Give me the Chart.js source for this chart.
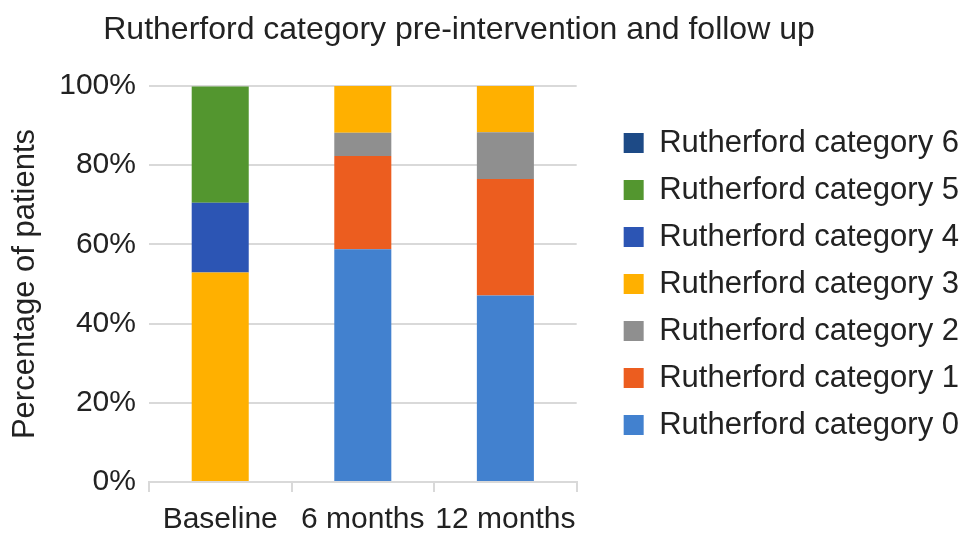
<!DOCTYPE html>
<html lang="en">
<head>
    <meta charset="UTF-8">
    <title>Rutherford category</title>
    <script src="https://cdn.jsdelivr.net/npm/chart.js"></script>
    <style>
        body {
            margin: 0;
            background: #fff;
        }
        .wrap {
            position: relative;
            width: 969px;
            height: 544px;
        }
        .title {
            position: absolute;
            left: 0;
            top: 9px;
            width: 918px;
            text-align: center;
            font-family: "Liberation Sans", Arial, sans-serif;
            font-size: 32px;
            line-height: 38px;
            color: #222;
        }
    </style>
</head>
<body>

<div class="wrap">
    <div class="title">Rutherford category pre-intervention and follow up</div>
    <canvas id="chart" width="969" height="544"></canvas>
</div>

<script>
    const timepoints = ['Baseline', '6 months', '12 months'];
    const seriesNames = ['Rutherford category 0', 'Rutherford category 1', 'Rutherford category 2',
        'Rutherford category 3', 'Rutherford category 4', 'Rutherford category 5', 'Rutherford category 6'];

    // percentage of patients per timepoint
    const cat0 = [0, 58.8, 47.1];
    const cat1 = [0, 23.5, 29.4];
    const cat2 = [0, 5.9, 11.8];
    const cat3 = [52.9, 11.8, 11.8];
    const cat4 = [17.6, 0, 0];
    const cat5 = [29.4, 0, 0];
    const cat6 = [0, 0, 0];

    const yTicks = [0, 20, 40, 60, 80, 100];

    const colors = ['#4281cf', '#ec5d1f', '#8f8f8f', '#ffb000', '#2c55b4', '#53962f', '#1d4a86'];
    const allSeries = [cat0, cat1, cat2, cat3, cat4, cat5, cat6];

    const fam = '"Liberation Sans", Arial, sans-serif';
    const font = { family: fam, size: 30 };

    new Chart(document.getElementById('chart'), {
        type: 'bar',
        data: {
            labels: timepoints,
            datasets: allSeries.map((vals, i) => ({
                label: seriesNames[i],
                data: vals,
                backgroundColor: colors[i],
                borderWidth: 0,
                barPercentage: 0.4,
                categoryPercentage: 1
            }))
        },
        options: {
            responsive: false,
            animation: false,
            layout: {
                padding: { top: 86, left: 5, right: 0, bottom: -4 }
            },
            plugins: {
                legend: {
                    position: 'right',
                    reverse: true,
                    fullSize: false,
                    maxWidth: 420,
                    labels: {
                        boxWidth: 20,
                        boxHeight: 20,
                        padding: 16,
                        color: '#222',
                        font: { family: fam, size: 31 }
                    }
                },
                tooltip: { enabled: false }
            },
            scales: {
                x: {
                    stacked: true,
                    grid: {
                        offset: true,
                        drawOnChartArea: false,
                        drawTicks: true,
                        tickLength: 10,
                        color: '#d9d9d9',
                        lineWidth: 2
                    },
                    border: { color: '#d9d9d9', width: 2 },
                    ticks: {
                        color: '#222',
                        font: font,
                        padding: 10,
                        autoSkip: false,
                        maxRotation: 0,
                        minRotation: 0
                    }
                },
                y: {
                    stacked: true,
                    min: 0,
                    max: 100,
                    afterBuildTicks: s => { s.ticks = yTicks.map(v => ({ value: v })); },
                    grid: { color: '#d9d9d9', lineWidth: 2, drawTicks: false },
                    border: { display: false },
                    ticks: {
                        color: '#222',
                        font: font,
                        padding: 13,
                        callback: v => v + '%'
                    },
                    title: {
                        display: true,
                        text: 'Percentage of patients',
                        color: '#222',
                        font: { family: fam, size: 31 },
                        padding: 2
                    }
                },
                gap: {
                    position: 'right',
                    display: true,
                    grid: { display: false },
                    border: { display: false },
                    ticks: { display: false },
                    afterFit: s => { s.width = 31; }
                }
            }
        }
    });
</script>
</body>
</html>
